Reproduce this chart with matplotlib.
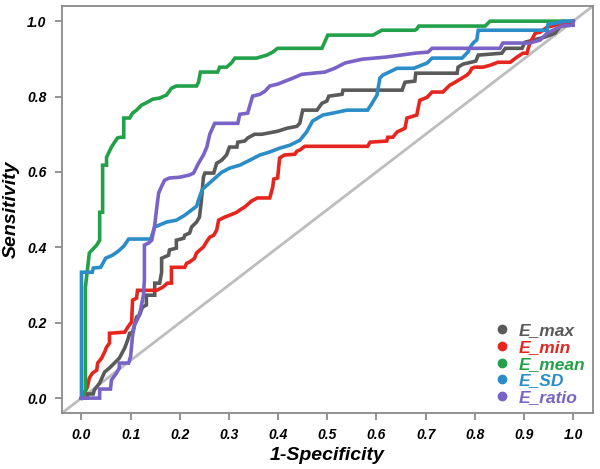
import matplotlib.pyplot as plt
from matplotlib.lines import Line2D

plt.rcParams['font.family'] = ['Liberation Sans', 'DejaVu Sans']

# ROC curve points (1-specificity, sensitivity)
max_fpr = [0, 0.012, 0.012, 0.024, 0.026, 0.037, 0.047, 0.057, 0.067, 0.077, 0.088, 0.094, 0.098, 0.104,
           0.112, 0.118, 0.124, 0.132, 0.132, 0.149, 0.149, 0.159, 0.163, 0.163, 0.177, 0.179, 0.193, 0.193,
           0.208, 0.210, 0.220, 0.224, 0.234, 0.240, 0.244, 0.248, 0.251, 0.269, 0.275, 0.285, 0.295, 0.301,
           0.316, 0.318, 0.332, 0.338, 0.352, 0.367, 0.399, 0.418, 0.438, 0.444, 0.450, 0.479, 0.489, 0.499,
           0.503, 0.530, 0.532, 0.652, 0.658, 0.678, 0.680, 0.764, 0.766, 0.776, 0.802, 0.807, 0.855, 0.862,
           0.896, 0.902, 0.943, 0.963, 0.974, 0.994, 1.0]
max_tpr = [0, 0, 0.011, 0.011, 0.021, 0.040, 0.069, 0.080, 0.093, 0.106, 0.133, 0.154, 0.172, 0.175,
           0.215, 0.220, 0.241, 0.247, 0.273, 0.273, 0.305, 0.305, 0.334, 0.371, 0.379, 0.393, 0.398, 0.419,
           0.424, 0.432, 0.438, 0.454, 0.467, 0.480, 0.525, 0.586, 0.597, 0.597, 0.623, 0.631, 0.645, 0.666,
           0.666, 0.679, 0.682, 0.690, 0.700, 0.700, 0.708, 0.716, 0.721, 0.729, 0.764, 0.764, 0.782, 0.788,
           0.801, 0.806, 0.817, 0.817, 0.838, 0.841, 0.862, 0.862, 0.878, 0.886, 0.894, 0.910, 0.915, 0.928,
           0.928, 0.944, 0.958, 0.968, 0.987, 0.989, 1.0]

min_fpr = [0, 0.006, 0.012, 0.016, 0.022, 0.031, 0.033, 0.041, 0.047, 0.051, 0.057, 0.057, 0.088, 0.094,
           0.102, 0.104, 0.112, 0.114, 0.153, 0.165, 0.175, 0.183, 0.183, 0.210, 0.214, 0.220, 0.230, 0.234,
           0.248, 0.255, 0.261, 0.269, 0.275, 0.279, 0.291, 0.301, 0.316, 0.322, 0.332, 0.346, 0.358, 0.383,
           0.389, 0.391, 0.399, 0.403, 0.413, 0.434, 0.438, 0.444, 0.454, 0.582, 0.587, 0.621, 0.623, 0.633,
           0.642, 0.658, 0.662, 0.682, 0.688, 0.703, 0.713, 0.735, 0.749, 0.760, 0.774, 0.784, 0.790, 0.794,
           0.800, 0.817, 0.831, 0.847, 0.872, 0.886, 0.898, 0.906, 0.912, 0.923, 0.933, 0.947, 0.963, 1.0]
min_tpr = [0, 0.013, 0.029, 0.053, 0.066, 0.074, 0.093, 0.106, 0.122, 0.135, 0.146, 0.172, 0.175, 0.188,
           0.202, 0.260, 0.265, 0.286, 0.286, 0.294, 0.305, 0.305, 0.347, 0.347, 0.358, 0.361, 0.371, 0.385,
           0.401, 0.416, 0.427, 0.432, 0.446, 0.472, 0.480, 0.485, 0.493, 0.499, 0.507, 0.523, 0.531, 0.531,
           0.560, 0.581, 0.584, 0.637, 0.645, 0.647, 0.655, 0.658, 0.668, 0.668, 0.679, 0.682, 0.692, 0.692,
           0.706, 0.716, 0.743, 0.751, 0.790, 0.798, 0.812, 0.812, 0.830, 0.838, 0.849, 0.857, 0.865, 0.875,
           0.878, 0.878, 0.883, 0.891, 0.891, 0.905, 0.915, 0.915, 0.942, 0.968, 0.971, 0.984, 0.989, 1.0]

mean_fpr = [0, 0.008, 0.008, 0.016, 0.031, 0.037, 0.037, 0.043, 0.043, 0.051, 0.051, 0.061, 0.073, 0.079,
            0.086, 0.086, 0.098, 0.104, 0.112, 0.122, 0.134, 0.145, 0.159, 0.173, 0.183, 0.193, 0.234, 0.238,
            0.242, 0.277, 0.281, 0.295, 0.305, 0.312, 0.356, 0.377, 0.389, 0.399, 0.489, 0.501, 0.593, 0.611,
            0.678, 0.682, 0.686, 0.821, 0.831, 1.0]
mean_tpr = [0, 0.021, 0.294, 0.385, 0.406, 0.419, 0.493, 0.493, 0.618, 0.618, 0.639, 0.666, 0.690, 0.692,
            0.692, 0.743, 0.743, 0.756, 0.764, 0.777, 0.785, 0.793, 0.796, 0.804, 0.822, 0.828, 0.828, 0.838,
            0.865, 0.865, 0.878, 0.878, 0.889, 0.902, 0.902, 0.910, 0.918, 0.928, 0.928, 0.963, 0.963, 0.976,
            0.976, 0.979, 0.987, 0.987, 1.0, 1.0]

sd_fpr = [0, 0, 0.022, 0.024, 0.039, 0.045, 0.049, 0.063, 0.075, 0.086, 0.096, 0.141, 0.149, 0.173, 0.193,
          0.210, 0.224, 0.234, 0.240, 0.246, 0.265, 0.285, 0.301, 0.322, 0.342, 0.363, 0.383, 0.403, 0.424,
          0.444, 0.458, 0.470, 0.491, 0.511, 0.540, 0.582, 0.591, 0.601, 0.607, 0.613, 0.642, 0.676, 0.703,
          0.713, 0.774, 0.786, 0.792, 0.798, 0.804, 0.807, 0.947, 0.949, 0.974, 0.978, 1.0]
sd_tpr = [0, 0.334, 0.334, 0.345, 0.347, 0.361, 0.371, 0.379, 0.390, 0.403, 0.422, 0.422, 0.454, 0.467,
          0.472, 0.485, 0.499, 0.509, 0.533, 0.554, 0.576, 0.599, 0.610, 0.618, 0.631, 0.645, 0.653, 0.663,
          0.671, 0.684, 0.706, 0.735, 0.751, 0.756, 0.764, 0.764, 0.782, 0.804, 0.849, 0.857, 0.875, 0.875,
          0.889, 0.902, 0.902, 0.918, 0.934, 0.944, 0.950, 0.976, 0.976, 0.992, 0.997, 1.0, 1.0]

ratio_fpr = [0, 0.037, 0.037, 0.059, 0.061, 0.071, 0.077, 0.077, 0.096, 0.100, 0.104, 0.108, 0.116, 0.120,
             0.126, 0.128, 0.128, 0.136, 0.143, 0.149, 0.153, 0.157, 0.163, 0.169, 0.179, 0.200, 0.220, 0.228,
             0.238, 0.248, 0.255, 0.261, 0.271, 0.318, 0.322, 0.338, 0.348, 0.363, 0.373, 0.383, 0.399, 0.430,
             0.448, 0.495, 0.515, 0.536, 0.570, 0.621, 0.678, 0.705, 0.713, 0.851, 0.857, 0.912, 0.933, 0.947,
             0.959, 0.980, 1.0, 1.0]
ratio_tpr = [0, 0, 0.024, 0.024, 0.048, 0.066, 0.080, 0.093, 0.093, 0.111, 0.167, 0.194, 0.215, 0.233,
             0.273, 0.313, 0.406, 0.411, 0.419, 0.459, 0.504, 0.544, 0.562, 0.578, 0.584, 0.586, 0.592, 0.597,
             0.623, 0.645, 0.666, 0.700, 0.729, 0.729, 0.753, 0.756, 0.801, 0.806, 0.814, 0.828, 0.833, 0.849,
             0.859, 0.865, 0.875, 0.889, 0.899, 0.905, 0.915, 0.918, 0.928, 0.928, 0.942, 0.942, 0.950, 0.968,
             0.976, 0.989, 0.989, 1.0]

labels = ['E_max', 'E_min', 'E_mean', 'E_SD', 'E_ratio']
colors = ['#5a5a5a', '#e5261f', '#23a04a', '#2a8dc7', '#7a63c7']
curves = [(max_fpr, max_tpr), (min_fpr, min_tpr), (mean_fpr, mean_tpr), (sd_fpr, sd_tpr), (ratio_fpr, ratio_tpr)]

fig = plt.figure(figsize=(6, 4.69), dpi=100)
ax = fig.add_axes([0.103, 0.119, 0.885, 0.868])

ax.plot([-0.1, 1.1], [-0.1, 1.1], color='#bdbdbd', lw=2.0, zorder=1)
for (fx, ty), c in zip(curves, colors):
    ax.plot(fx, ty, color=c, lw=2.6, solid_joinstyle='miter', zorder=2)

ax.set_xlim(-0.04, 1.04)
ax.set_ylim(-0.04, 1.04)
ticks = [i / 10 for i in range(11)]
ax.set_xticks(ticks)
ax.set_xticklabels([f'{t:.1f}' for t in ticks])
ax.set_yticks(ticks[::2])
ax.set_yticklabels([f'{t:.1f}' for t in ticks[::2]])
for s in ax.spines.values():
    s.set_color('#8a8a8a')
    s.set_linewidth(1.3)
ax.tick_params(colors='#8a8a8a', length=5, width=1.3, labelcolor='black', pad=6)
for lab in ax.get_xticklabels() + ax.get_yticklabels():
    lab.set_fontsize(10)
    lab.set_fontweight('bold')
    lab.set_fontstyle('italic')

ax.set_xlabel('1-Specificity', fontsize=14, fontweight='bold', fontstyle='italic', labelpad=3)
ax.set_ylabel('Sensitivity', fontsize=14, fontweight='bold', fontstyle='italic', labelpad=5)

handles = [Line2D([], [], ls='none', marker='o', ms=6, color=c) for c in colors]
leg = ax.legend(handles, labels, loc='lower right', frameon=False, fontsize=12.5,
                handletextpad=0.35, labelspacing=0.1, borderaxespad=0.05, handlelength=1.2)
for t, c in zip(leg.get_texts(), colors):
    t.set_color(c)
    t.set_fontweight('bold')
    t.set_fontstyle('italic')

plt.savefig('out.png', dpi=100)
